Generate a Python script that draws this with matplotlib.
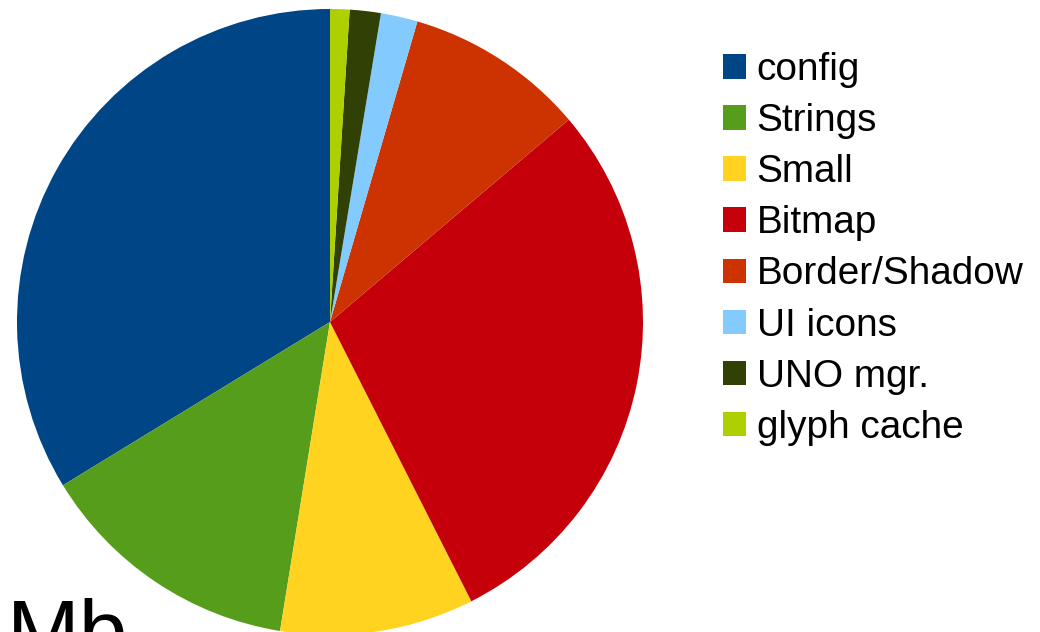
import matplotlib
matplotlib.use('Agg')
import matplotlib.pyplot as plt
from matplotlib.patches import Patch

plt.rcParams['font.family'] = ['Liberation Sans', 'DejaVu Sans']

# Memory share per category (percent)
labels = ['config', 'Strings', 'Small', 'Bitmap', 'Border/Shadow',
          'UI icons', 'UNO mgr.', 'glyph cache']
values = [33.7, 13.7, 10.0, 28.7, 9.3, 1.9, 1.6, 1.0]
colors = ['#004586', '#579d1c', '#ffd320', '#c5000b', '#cc3300',
          '#83caff', '#314004', '#aecf00']

fig = plt.figure(figsize=(10.4, 6.32), dpi=100)
W, H = 1040, 632

# pie: center (330, 322) px, radius 313 px
cx, cy, r = 330, 322, 313
ax = fig.add_axes([(cx - r) / W, (H - cy - r) / H, 2 * r / W, 2 * r / H])
ax.pie(values, colors=colors, startangle=90, counterclock=True,
       radius=1, wedgeprops=dict(linewidth=0))
ax.set_xlim(-1, 1)
ax.set_ylim(-1, 1)
ax.axis('off')

handles = [Patch(facecolor=c, edgecolor='none') for c in colors]
fig.legend(handles, labels, loc='upper left',
           bbox_to_anchor=(723 / W, 1 - 52 / H), frameon=False,
           fontsize=27.9, handlelength=0.59, handleheight=0.59,
           handletextpad=0.28, labelspacing=0.39, borderpad=0, borderaxespad=0)

# cut-off title at the bottom left
fig.text(7 / W, 1 - 598 / H, 'Mb', fontsize=63, va='top', ha='left')

fig.savefig('out.png', dpi=100)
